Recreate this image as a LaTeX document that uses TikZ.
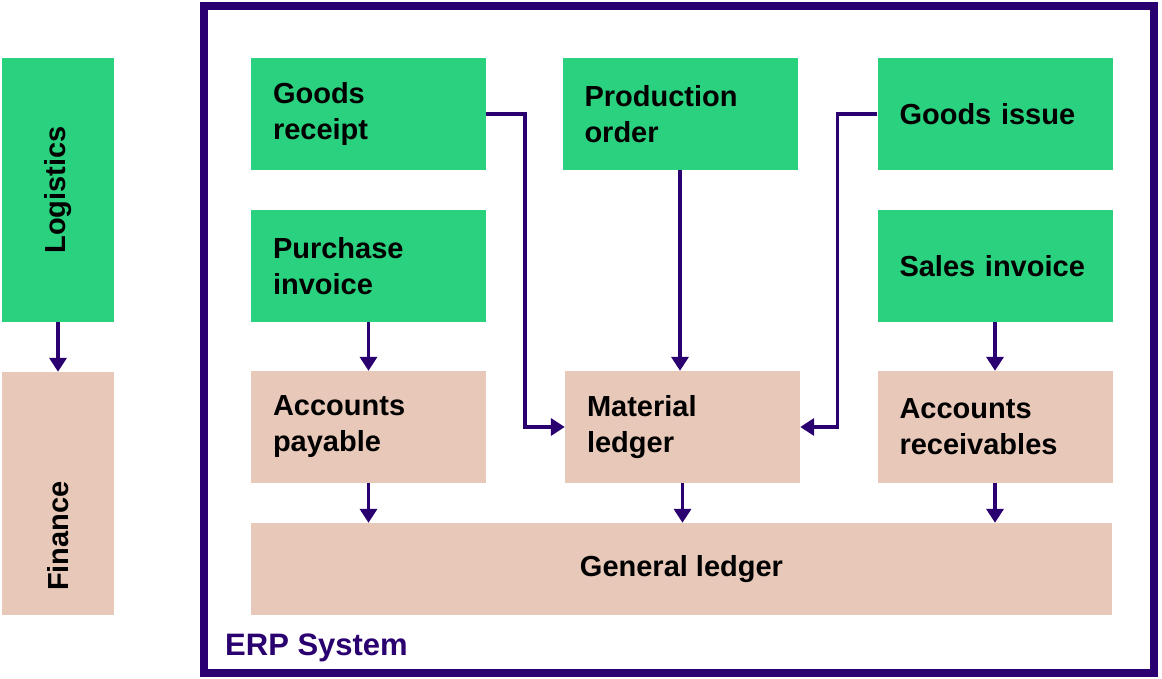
\documentclass[tikz,border=0pt]{standalone}
\usepackage{fontspec}
\setmainfont{Liberation Sans}
\usetikzlibrary{arrows.meta}
\definecolor{sgreen}{RGB}{42,209,127}
\definecolor{speach}{RGB}{232,200,184}
\definecolor{spurple}{RGB}{42,0,112}
\begin{document}
\begin{tikzpicture}[x=1pt,y=-1pt,
  boxtext/.style={font=\fontsize{29}{36}\selectfont\bfseries, text=black},
  gbox/.style={boxtext, fill=sgreen, draw=none, inner xsep=22pt, inner ysep=0pt,
    text width=191pt, minimum width=235pt, minimum height=112pt, align=left},
  pbox/.style={gbox, fill=speach},
  arr/.style={draw=spurple, line width=3.5pt, -{Triangle[width=17pt,length=14pt]}}
]
\useasboundingbox (0,0) rectangle (1162,679);
% ERP frame
\node[draw=spurple, line width=8pt, minimum width=950pt, minimum height=667pt, inner sep=0pt] (erp) at (679,339.5) {};
\node[anchor=base west, font=\fontsize{31}{36}\selectfont\bfseries, text=spurple, inner sep=0pt] (erplabel) at (225,655) {ERP System};
% Left column
\node[fill=sgreen, minimum width=112pt, minimum height=264pt, inner sep=0pt] (log) at (58,190) {};
\node[boxtext, rotate=90, inner sep=0pt] (logt) at (58,190) {Logistics};
\node[fill=speach, minimum width=112pt, minimum height=243pt, inner sep=0pt] (fin) at (58,493.5) {};
\node[boxtext, rotate=90, inner sep=0pt] (fint) at (58,536) {Finance};
% Boxes
\node[gbox] (gr) at (368.5,114) {Goods\\receipt};
\node[gbox] (po) at (680,114) {Production\\order};
\node[gbox] (gi) at (995,114) {Goods issue};
\node[gbox] (pi) at (368.5,266) {Purchase\\invoice};
\node[gbox] (si) at (995,266) {Sales invoice};
\node[pbox] (ap) at (368.5,427) {Accounts\\payable};
\node[pbox] (ml) at (682.5,427) {Material\\ledger};
\node[pbox] (ar) at (995,427) {Accounts\\receivables};
\node[boxtext, fill=speach, minimum width=861pt, minimum height=92pt, inner sep=0pt] (gl) at (681.5,569) {General ledger};
% Arrows
\draw[arr] (log.south) -- (fin.north);
\draw[arr] (gr.east) -- ++(39,0) |- (ml.west);
\draw[arr] (po.south) -- (po.south |- ml.north);
\draw[arr] (gi.west) -- ++(-40,0) |- (ml.east);
\draw[arr] (pi.south) -- (ap.north);
\draw[arr] (si.south) -- (ar.north);
\draw[arr] (ap.south) -- (ap.south |- gl.north);
\draw[arr] (ml.south) -- (ml.south |- gl.north);
\draw[arr] (ar.south) -- (ar.south |- gl.north);
\end{tikzpicture}
\end{document}
